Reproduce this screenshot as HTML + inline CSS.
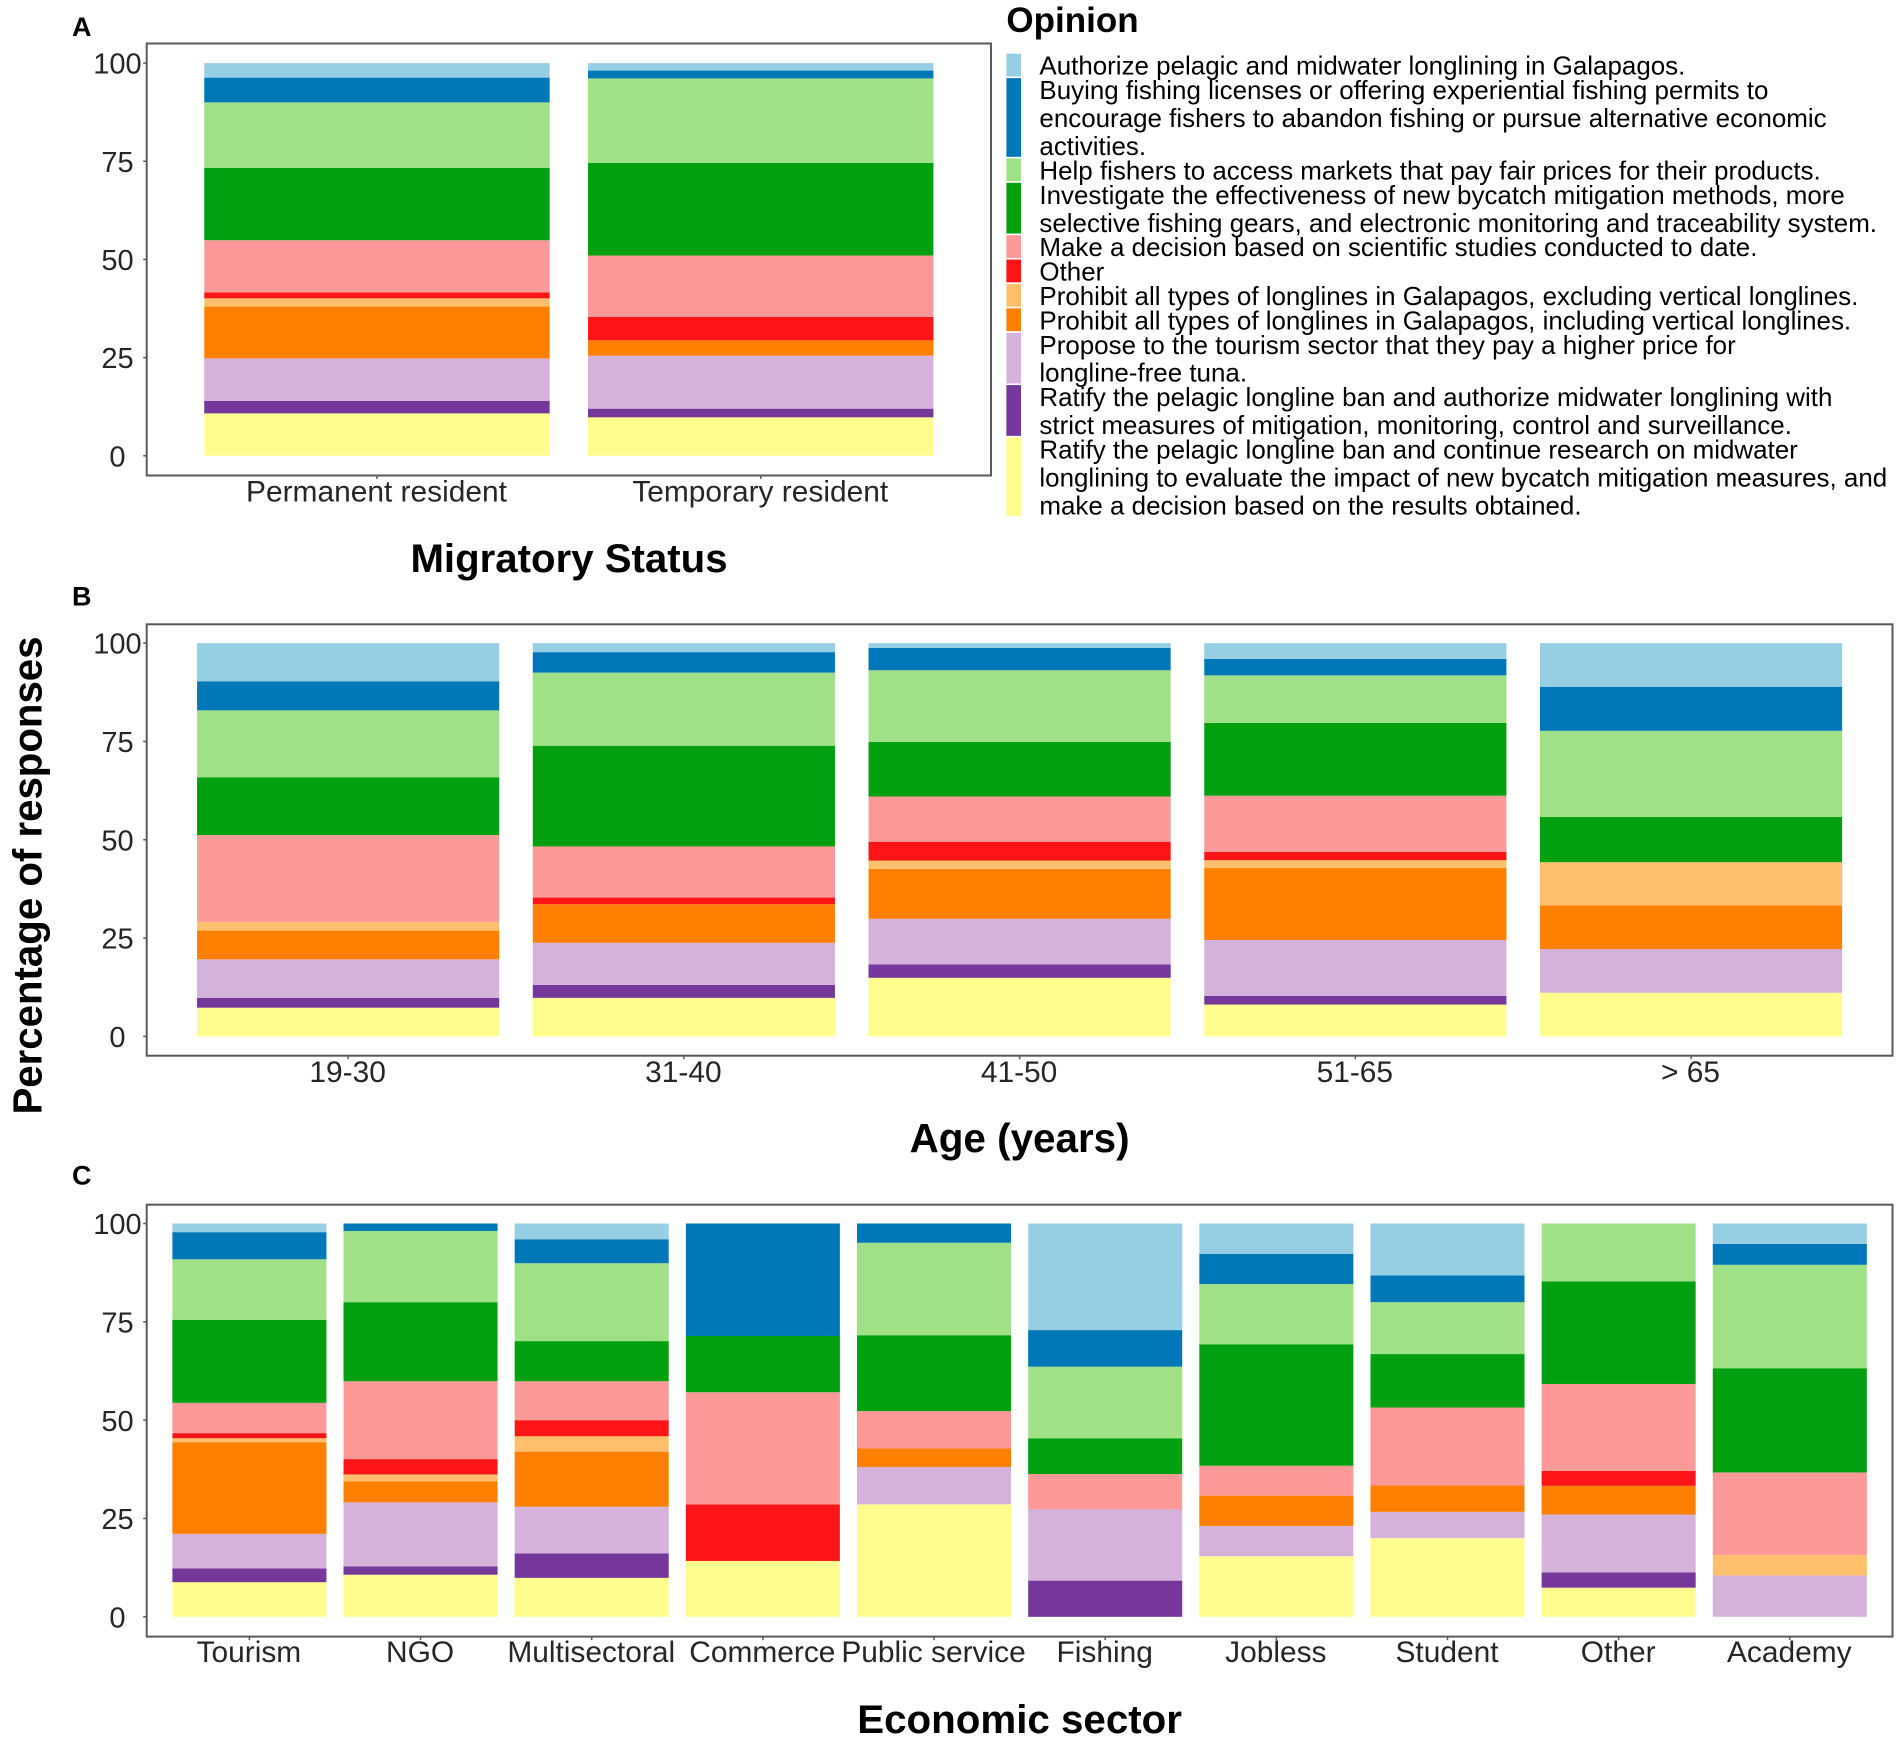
<!DOCTYPE html>
<html lang="en">
<head>
<meta charset="utf-8">
<title>Opinion by migratory status, age and economic sector</title>
<style>
html,body{margin:0;padding:0;background:#fff;}
svg{display:block;font-family:"Liberation Sans",Arial,sans-serif;}
</style>
</head>
<body>
<svg id="chart" xmlns="http://www.w3.org/2000/svg" width="1901" height="1741" viewBox="0 0 1901 1741"></svg>
<script>
// Series, in legend order (top of stack first)
const seriesColors = ['#96cfe4','#0078b8','#a0e187','#00a010','#fe999a','#ff1418','#fec06c','#ff7f00','#d4b2da','#76379b','#fffd8e'];
const seriesKeys = ['authorize','buy-licenses','fair-markets','bycatch-research','scientific-decision','other','prohibit-excl-vertical','prohibit-incl-vertical','tourism-pays','ratify-authorize','ratify-research'];
const legendLabels = [
  ['Authorize pelagic and midwater longlining in Galapagos.'],
  ['Buying fishing licenses or offering experiential fishing permits to','encourage fishers to abandon fishing or pursue alternative economic','activities.'],
  ['Help fishers to access markets that pay fair prices for their products.'],
  ['Investigate the effectiveness of new bycatch mitigation methods, more','selective fishing gears, and electronic monitoring and traceability system.'],
  ['Make a decision based on scientific studies conducted to date.'],
  ['Other'],
  ['Prohibit all types of longlines in Galapagos, excluding vertical longlines.'],
  ['Prohibit all types of longlines in Galapagos, including vertical longlines.'],
  ['Propose to the tourism sector that they pay a higher price for','longline-free tuna.'],
  ['Ratify the pelagic longline ban and authorize midwater longlining with','strict measures of mitigation, monitoring, control and surveillance.'],
  ['Ratify the pelagic longline ban and continue research on midwater','longlining to evaluate the impact of new bycatch mitigation measures, and','make a decision based on the results obtained.']
];
const yTicks = [0,25,50,75,100];

// Panel A: migratory status
const migratoryCategories = ['Permanent resident','Temporary resident'];
const permanentResident = [3.7,6.3,16.7,18.4,13.3,1.5,2.1,13.2,10.8,3.2,10.8];
const temporaryResident = [1.9,2,21.5,23.6,15.6,6,0,3.9,13.5,2.2,9.8];

// Panel B: age
const ageCategories = ['19-30','31-40','41-50','51-65','> 65'];
const age19to30 = [9.7,7.4,17,14.7,22.1,0,2.2,7.3,9.8,2.5,7.3];
const age31to40 = [2.3,5.2,18.6,25.6,13,1.7,0,9.8,10.7,3.3,9.8];
const age41to50 = [1.2,5.7,18.2,13.9,11.5,4.8,2.1,12.7,11.6,3.4,14.9];
const age51to65 = [4,4.2,12.1,18.5,14.3,2.1,2,18.3,14.2,2.2,8.1];
const ageOver65 = [11.1,11.2,21.9,11.5,0,0,11,11.1,11.1,0,11.1];

// Panel C: economic sector
const sectorCategories = ['Tourism','NGO','Multisectoral','Commerce','Public service','Fishing','Jobless','Student','Other','Academy'];
const sectorTourism = [2.2,6.9,15.4,21.1,7.7,1.3,1,23.3,8.8,3.5,8.8];
const sectorNgo = [0,1.9,18.1,20.1,19.8,3.9,1.8,5.3,16.3,2.1,10.7];
const sectorMulti = [4,6.1,19.8,10.2,9.9,4.1,3.9,14,11.9,6.2,9.9];
const sectorCommerce = [0,28.6,0,14.3,28.5,14.4,0,0,0,0,14.2];
const sectorPublic = [0,4.9,23.5,19.3,9.5,0,0,4.7,9.5,0,28.6];
const sectorFishing = [27.1,9.3,18.2,9.1,9,0,0,0,18.1,9.2,0];
const sectorJobless = [7.7,7.7,15.3,30.9,7.6,0,0,7.7,7.7,0,15.4];
const sectorStudent = [13.2,6.8,13.2,13.6,19.8,0,0,6.7,6.7,0,20];
const sectorOther = [0,0,14.7,26.1,22.1,3.8,0,7.3,14.7,3.9,7.4];
const sectorAcademy = [5.2,5.3,26.3,26.5,21,0,5.2,0,10.5,0,0];

const svg = document.getElementById('chart');
const NS = 'http://www.w3.org/2000/svg';

function make(tag, attrs, parent, text) {
  const el = document.createElementNS(NS, tag);
  for (const k in attrs) el.setAttribute(k, attrs[k]);
  if (text !== undefined) el.textContent = text;
  (parent || svg).appendChild(el);
  return el;
}
function slug(s) {
  return s.toLowerCase().replace(/[^a-z0-9]+/g, '-').replace(/^-|-$/g, '');
}

function drawPanel(p) {
  const group = make('g', {});
  
  

  const yScale = v => p.y0 - v * (p.y0 - p.y100) / 100;
  const step = (p.right - p.left) / (p.categories.length - 1 + 1.2);
  const xCenter = i => p.left + (0.6 + i) * step;
  const barWidth = step * 0.9;

  // bars
  p.values.forEach((vals, c) => {
    let cum = 0;
    for (let s = vals.length - 1; s >= 0; s--) {
      const v = vals[s];
      if (v <= 0) continue;
      const top = yScale(cum + v);
      const bottom = yScale(cum);
      const r = make('rect', {x: xCenter(c) - barWidth / 2, y: top, width: barWidth, height: bottom - top, fill: seriesColors[s]}, group);
      
      
      cum += v;
    }
  });

  // frame
  const frame = make('rect', {x: p.left, y: p.top, width: p.right - p.left, height: p.bottom - p.top, fill: 'none', stroke: '#5a5a5a', 'stroke-width': 2}, group);
  
  

  // y axis
  yTicks.forEach(t => {
    const mark = make('line', {x1: p.left - 3.5, x2: p.left, y1: yScale(t), y2: yScale(t), stroke: '#5a5a5a', 'stroke-width': 1.5}, group);
    
    
    const label = make('text', {x: 117.5, y: yScale(t) + 10.6, 'text-anchor': 'middle', 'font-size': 29, fill: '#262626'}, group, String(t));
    
    
  });

  // x axis
  p.categories.forEach((cat, i) => {
    const mark = make('line', {x1: xCenter(i), x2: xCenter(i), y1: p.bottom, y2: p.bottom + 3.5, stroke: '#5a5a5a', 'stroke-width': 1.5}, group);
    
    
    const label = make('text', {x: xCenter(i) - 0.5, y: p.tickBase, 'text-anchor': 'middle', 'font-size': 29.9, fill: '#262626'}, group, cat);
    
    
  });

  // x title
  const title = make('text', {x: p.titleX, y: p.titleBase, 'text-anchor': 'middle', 'font-size': p.titleSize, 'font-weight': 'bold', fill: '#000'}, group, p.title);
  
  

  // panel letter
  const letter = make('text', {x: 72, y: p.letterBase, 'font-size': 27, 'font-weight': 'bold', fill: '#000'}, group, p.letter);
  
  
}

drawPanel({id:'a', letter:'A', letterBase:36, left:146.7, right:991, top:43.5, bottom:475.5, y0:455.8, y100:63.1, tickBase:501.5,
  title:'Migratory Status', titleX:569, titleBase:572, titleSize:40.2,
  categories:migratoryCategories, values:[permanentResident, temporaryResident]});
drawPanel({id:'b', letter:'B', letterBase:605.5, left:146.7, right:1892.5, top:624.3, bottom:1055.7, y0:1036.4, y100:643.1, tickBase:1082,
  title:'Age (years)', titleX:1019.6, titleBase:1152, titleSize:40.4,
  categories:ageCategories, values:[age19to30, age31to40, age41to50, age51to65, ageOver65]});
drawPanel({id:'c', letter:'C', letterBase:1184.5, left:146.7, right:1892.5, top:1204.7, bottom:1636.6, y0:1616.8, y100:1223.5, tickBase:1662,
  title:'Economic sector', titleX:1019.6, titleBase:1733, titleSize:40.3,
  categories:sectorCategories, values:[sectorTourism, sectorNgo, sectorMulti, sectorCommerce, sectorPublic, sectorFishing, sectorJobless, sectorStudent, sectorOther, sectorAcademy]});

// shared y-axis title
const yTitle = make('text', {transform: 'translate(41.5,875.5) rotate(-90)', 'text-anchor': 'middle', 'font-size': 41, 'font-weight': 'bold', fill: '#000', textLength: 478, lengthAdjust: 'spacingAndGlyphs'}, svg, 'Percentage of responses');



// legend
const legend = make('g', {});


const legendTitle = make('text', {x: 1006.4, y: 32, 'font-size': 35, 'font-weight': 'bold', fill: '#000'}, legend, 'Opinion');



let rowTop = 53.7;
legendLabels.forEach((lines, i) => {
  const pitch = 24.4 + (lines.length - 1) * 27.95;
  const entry = make('g', {}, legend);
  
  
  const key = make('rect', {x: 1006.4, y: rowTop, width: 14.6, height: pitch - 1.6, fill: seriesColors[i]}, entry);
  
  
  lines.forEach((line, j) => {
    const t = make('text', {x: 1039.4, y: rowTop + 21 + j * 27.95, 'font-size': 25.95, fill: '#000'}, entry, line);
    
    
  });
  rowTop += pitch;
});
</script>
</body>
</html>
